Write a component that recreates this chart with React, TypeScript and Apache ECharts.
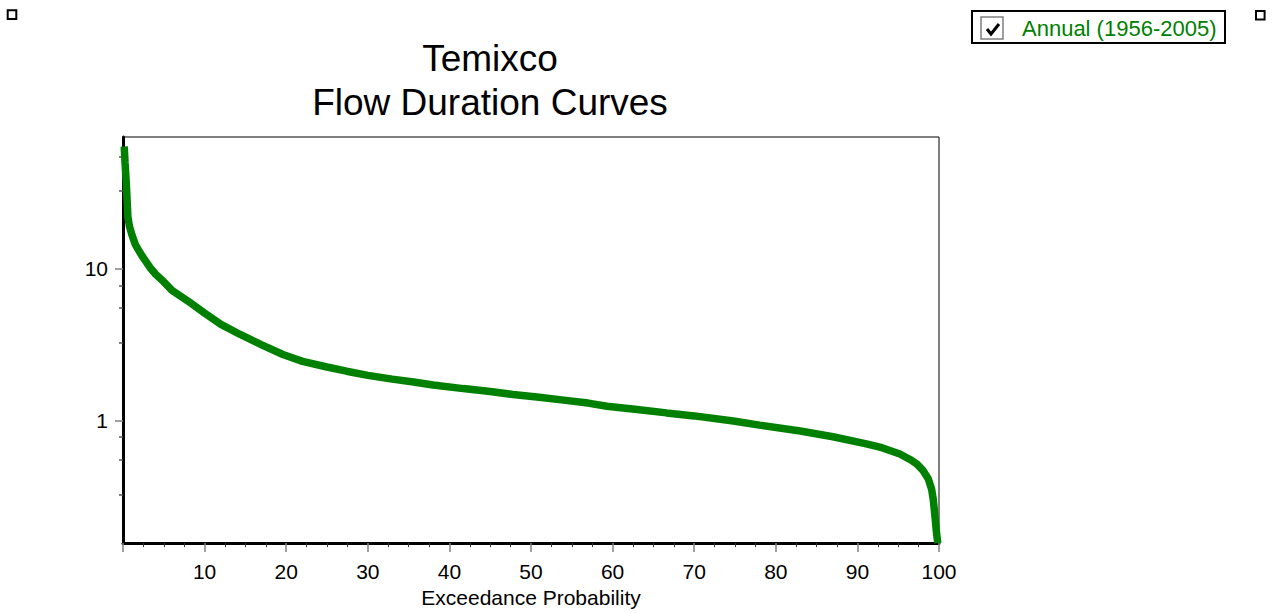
import React, { useEffect, useRef } from "react";
import * as echarts from "echarts";

const FONT = "'Liberation Sans', Arial, sans-serif";

const titleLines = ["Temixco", "Flow Duration Curves"];
const xAxisName = "Exceedance Probability";
const seriesName = "Annual (1956-2005)";
const yTickValues = [1, 10];

// Exceedance probability (%) and flow values
const exceedance = [
  0.15, 0.25, 0.4, 0.6, 0.8, 1.1, 1.5, 2, 2.5, 3.3, 4, 5, 6, 8, 10, 12, 14.3, 17,
  19.6, 22, 25, 27.4, 30, 33, 35.6, 38, 41.7, 45, 47.8, 51, 54, 57, 59.3, 63,
  66.6, 70, 74.8, 78, 83, 87, 91.1, 93, 95.2, 96.5, 97.3, 98, 98.7, 99.1, 99.3,
  99.5, 99.7, 99.85,
];
const flow = [
  64, 50, 37, 22, 19, 16.7, 14.5, 13, 11.8, 10.2, 9.2, 8.2, 7.2, 6.1, 5.1, 4.3,
  3.7, 3.15, 2.72, 2.45, 2.25, 2.11, 1.98, 1.87, 1.79, 1.71, 1.62, 1.55, 1.48,
  1.42, 1.36, 1.3, 1.24, 1.18, 1.12, 1.07, 0.99, 0.93, 0.85, 0.78, 0.7, 0.66,
  0.6, 0.55, 0.515, 0.47, 0.41, 0.35, 0.3, 0.234, 0.18, 0.155,
];

export default function App() {
  const ref = useRef<HTMLDivElement>(null);
  useEffect(() => {
    if (!ref.current) return;
    const chart = echarts.init(ref.current, null, { renderer: "svg" });
    const data = exceedance.map((x, i) => [x, flow[i]]);
    chart.setOption({
      animation: false,
      textStyle: { fontFamily: FONT },
      grid: {
        left: 123,
        top: 137,
        width: 816,
        height: 407,
        show: true,
        borderColor: "#000",
        borderWidth: 1,
        backgroundColor: "transparent",
      },
      xAxis: {
        type: "value",
        min: 0,
        max: 100,
        interval: 10,
        name: xAxisName,
        nameLocation: "middle",
        nameGap: 41,
        nameTextStyle: { fontSize: 21, color: "#000", fontFamily: FONT },
        axisLine: { show: true, onZero: false, lineStyle: { color: "#000", width: 3 } },
        axisTick: { show: true, length: 9, lineStyle: { color: "#808080", width: 1.5 } },
        minorTick: { show: true, splitNumber: 4, length: 4, lineStyle: { color: "#333", width: 1 } },
        axisLabel: { showMinLabel: false, fontSize: 21, color: "#000", margin: 18, fontFamily: FONT },
        splitLine: { show: false },
      },
      yAxis: {
        type: "log",
        logBase: 10,
        min: 0.155,
        max: 74,
        axisLine: { show: true, onZero: false, lineStyle: { color: "#000", width: 3 } },
        axisTick: {
          show: true,
          customValues: yTickValues,
          length: 8,
          lineStyle: { color: "#808080", width: 1.5 },
        },
        minorTick: { show: true, splitNumber: 4, length: 4, lineStyle: { color: "#555", width: 1.5 } },
        axisLabel: {
          customValues: yTickValues,
          fontSize: 21,
          color: "#000",
          margin: 15,
          fontFamily: FONT,
        },
        splitLine: { show: false },
        minorSplitLine: { show: false },
      },
      graphic: [
        {
          type: "text",
          x: 490,
          y: 36,
          style: {
            text: titleLines.join("\n"),
            font: `37px ${FONT}`,
            lineHeight: 44,
            fill: "#000",
            align: "center",
            verticalAlign: "top",
          },
        },
        { type: "rect", shape: { x: 7.7, y: 10.3, width: 8.6, height: 8.6 }, style: { fill: "#fff", stroke: "#000", lineWidth: 2 } },
        { type: "rect", shape: { x: 1256, y: 11, width: 8.6, height: 8.6 }, style: { fill: "#fff", stroke: "#000", lineWidth: 2 } },
        { type: "rect", shape: { x: 972, y: 11, width: 253, height: 32 }, style: { fill: "#fff", stroke: "#000", lineWidth: 2 } },
        { type: "rect", shape: { x: 981, y: 17, width: 22, height: 22 }, style: { fill: "#fff", stroke: "#808080", lineWidth: 1.5 } },
        { type: "polyline", shape: { points: [[987, 29], [991, 34], [999, 24]] }, style: { stroke: "#000", lineWidth: 3, fill: null } },
        {
          type: "text",
          x: 1022,
          y: 28,
          style: {
            text: seriesName,
            font: `22px ${FONT}`,
            fill: "#008000",
            align: "left",
            verticalAlign: "middle",
          },
        },
      ],
      series: [
        {
          name: seriesName,
          type: "line",
          data,
          showSymbol: false,
          symbol: "none",
          lineStyle: { color: "#008000", width: 7.5 },
          itemStyle: { color: "#008000" },
        },
      ],
    });
    return () => chart.dispose();
  }, []);
  return (
    <div
      ref={ref}
      style={{ position: "absolute", left: 0, top: 0, width: 1273, height: 613, background: "#fff" }}
    />
  );
}
